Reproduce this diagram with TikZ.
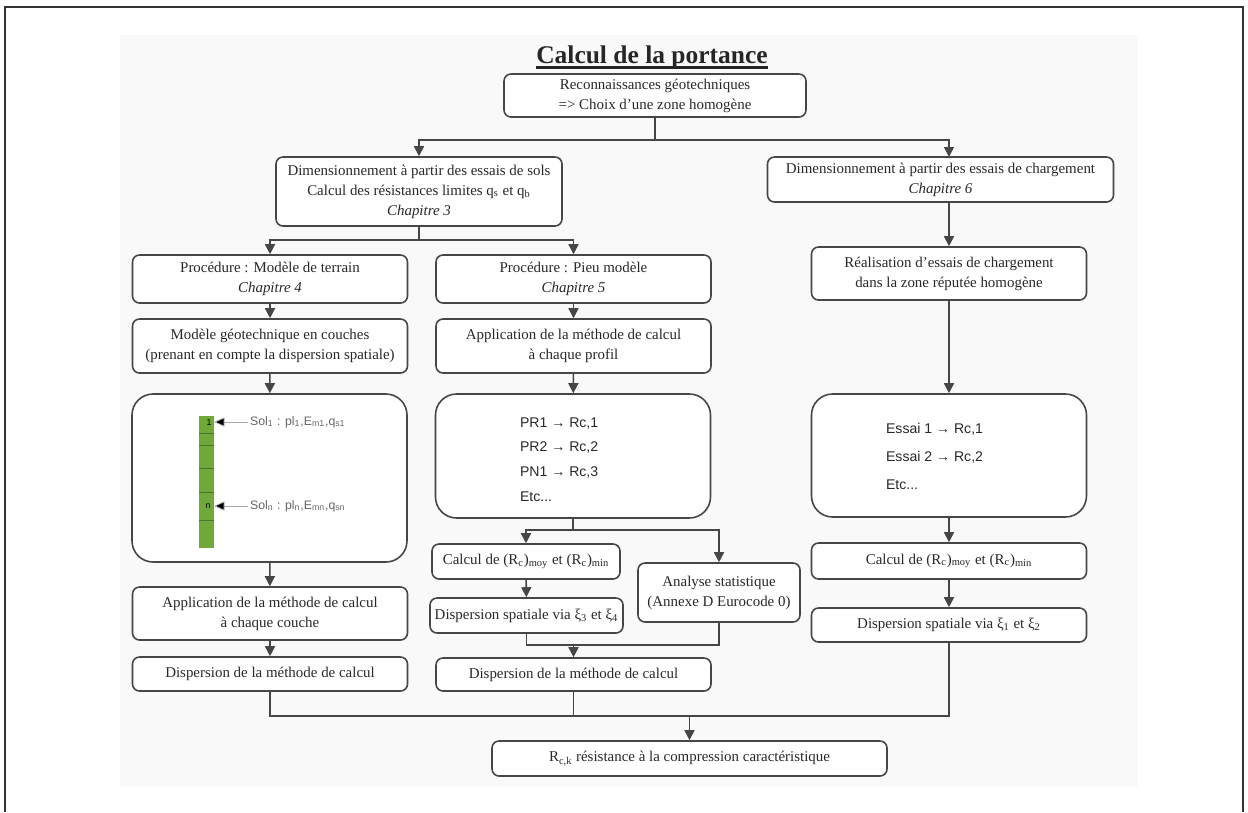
\documentclass[tikz,border=0pt]{standalone}
\usepackage{fontspec}
\setmainfont{Liberation Serif}
\setsansfont{Liberation Sans}
\usepackage{xcolor}
\usetikzlibrary{arrows.meta,positioning,calc}
\definecolor{linegray}{RGB}{70,70,70}
\definecolor{textgray}{RGB}{40,40,40}
\definecolor{fondgris}{RGB}{249,249,249}
\definecolor{vertsol}{RGB}{112,168,58}
\newcommand{\souligne}[1]{{\setbox0\hbox{#1}\usebox0\llap{\rule[-3.2pt]{\wd0}{1.5pt}}}}

\begin{document}
\begin{tikzpicture}[
  box/.style={rectangle, draw=linegray, rounded corners=4pt, line width=0.9pt, fill=white, align=center, text=textgray, inner sep=2pt, font=\fontsize{8.5}{11.4}\selectfont},
  col/.style={box, minimum width=5.5cm},
  bigbox/.style={col, rounded corners=12pt},
  liste/.style={align=left, anchor=west, inner sep=1pt, text=textgray},
  arr/.style={-{Triangle[length=2mm,width=2mm]}, line width=0.9pt, draw=linegray},
  lien/.style={line width=0.9pt, draw=linegray},
  fleche sol/.style={-{Triangle[length=2mm,width=1.8mm,fill=black]}, draw=black!35}
]
\useasboundingbox (0,0) rectangle (24.96,-16.24);

% Cadre et fond
\draw[line width=1pt, draw=black!80] (0.10,-16.24) -- (0.10,-0.14) -- (24.86,-0.14) -- (24.86,-16.24);
\fill[fondgris] (2.40,-0.70) rectangle (22.76,-15.74);

% Titre
\node[font=\bfseries\fontsize{14.5}{16}\selectfont, text=black!85] (titre) at (13.04,-1.14) {\souligne{Calcul de la portance}};

% Haut
\node[box, minimum width=6.04cm, minimum height=0.86cm] (top) at (13.10,-1.91) {Reconnaissances géotechniques\\=> Choix d’une zone homogène};
\coordinate (f1) at (13.10,-2.80);

\node[box, minimum width=5.72cm, minimum height=1.38cm] (sols) at (8.38,-3.83) {Dimensionnement à partir des essais de sols\\Calcul des résistances limites q\textsubscript{s} et q\textsubscript{b}\\\textit{Chapitre 3}};
\node[box, minimum width=6.92cm, minimum height=0.90cm] (charg) at (18.81,-3.59) {Dimensionnement à partir des essais de chargement\\\textit{Chapitre 6}};

\draw[lien] (top) -- (f1);
\draw[arr] (f1) -| (sols);
\draw[arr] (f1) -| (18.98,-3.14);

% Essais de sols
\coordinate (f2) at (8.38,-4.80);
\node[col, minimum height=0.96cm] (terrain) at (5.40,-5.58) {Procédure : Modèle de terrain\\\textit{Chapitre 4}};
\node[col, minimum height=0.96cm] (pieu) at (11.47,-5.58) {Procédure : Pieu modèle\\\textit{Chapitre 5}};
\draw[lien] (sols) -- (f2);
\draw[arr] (f2) -| (terrain);
\draw[arr] (f2) -| (pieu);

% Colonne gauche
\node[col, minimum height=1.08cm] (couches) at (5.40,-6.92) {Modèle géotechnique en couches\\(prenant en compte la dispersion spatiale)};
\node[bigbox, minimum height=3.36cm] (solbig) at (5.39,-9.56) {};
\node[rectangle, fill=vertsol, minimum width=0.30cm, minimum height=2.64cm, inner sep=0pt] (bar) at (4.13,-9.64) {};
\foreach \y in {-8.66,-8.90,-9.36,-9.84,-10.40}
  \draw[vertsol!70!black, line width=0.3pt] (3.98,\y) -- (4.28,\y);
\node[font=\sffamily\fontsize{5}{6}\selectfont, inner sep=0pt] (un) at (4.18,-8.44) {1};
\node[font=\sffamily\fontsize{5}{6}\selectfont, inner sep=0pt] (enne) at (4.16,-10.12) {n};
\node[liste, font=\sffamily\fontsize{7}{8}\selectfont, text=black!60] (sol1) at (4.96,-8.44) {Sol\textsubscript{1} : pl\textsubscript{1},E\textsubscript{m1},q\textsubscript{s1}};
\node[liste, font=\sffamily\fontsize{7}{8}\selectfont, text=black!60] (soln) at (4.96,-10.12) {Sol\textsubscript{n} : pl\textsubscript{n},E\textsubscript{mn},q\textsubscript{sn}};
\draw[fleche sol] (sol1.west) -- (sol1.west -| bar.east);
\draw[fleche sol] (soln.west) -- (soln.west -| bar.east);
\node[col, minimum height=1.06cm] (coucheApp) at (5.40,-12.27) {Application de la méthode de calcul\\à chaque couche};
\node[col, minimum height=0.68cm] (dispL) at (5.40,-13.48) {Dispersion de la méthode de calcul};
\draw[arr] (terrain) -- (couches);
\draw[arr] (couches) -- (solbig);
\draw[arr] (solbig) -- (coucheApp);
\draw[arr] (coucheApp) -- (dispL);

% Colonne milieu
\node[col, minimum height=1.08cm] (profil) at (11.47,-6.92) {Application de la méthode de calcul\\à chaque profil};
\node[bigbox, minimum height=2.48cm] (prbig) at (11.46,-9.12) {};
\node[liste, font=\sffamily\fontsize{8}{14}\selectfont] (prliste) at (10.36,-9.19) {PR1 → Rc,1\\PR2 → Rc,2\\PN1 → Rc,3\\Etc...};
\coordinate (f3) at (11.46,-10.60);
\node[box, minimum width=3.76cm, minimum height=0.70cm] (moyM) at (10.52,-11.23) {Calcul de (R\textsubscript{c})\textsubscript{moy} et (R\textsubscript{c})\textsubscript{min}};
\node[box, minimum width=3.24cm, minimum height=1.18cm] (stat) at (14.38,-11.85) {Analyse statistique\\(Annexe D Eurocode 0)};
\node[box, minimum width=3.86cm, minimum height=0.70cm] (xi34) at (10.53,-12.31) {Dispersion spatiale via ξ\textsubscript{3} et ξ\textsubscript{4}};
\coordinate (f4) at (11.47,-12.90);
\node[col, minimum height=0.66cm] (dispM) at (11.47,-13.49) {Dispersion de la méthode de calcul};
\draw[arr] (pieu) -- (profil);
\draw[arr] (profil) -- (prbig);
\draw[lien] (prbig) -- (f3);
\draw[arr] (f3) -| (moyM);
\draw[arr] (f3) -| (stat);
\draw[arr] (moyM) -- (xi34);
\draw[lien] (xi34.south) |- (f4);
\draw[lien] (stat.south) |- (f4);
\draw[arr] (f4) -- (dispM);

% Colonne droite
\node[col, minimum height=1.06cm] (reali) at (18.98,-5.47) {Réalisation d’essais de chargement\\dans la zone réputée homogène};
\node[bigbox, minimum height=2.46cm] (essbig) at (18.98,-9.11) {};
\node[liste, font=\sffamily\fontsize{8}{16}\selectfont] (essliste) at (17.68,-9.13) {Essai 1 → Rc,1\\Essai 2 → Rc,2\\Etc...};
\node[col, minimum height=0.72cm] (moyR) at (18.98,-11.22) {Calcul de (R\textsubscript{c})\textsubscript{moy} et (R\textsubscript{c})\textsubscript{min}};
\node[col, minimum height=0.68cm] (xi12) at (18.98,-12.50) {Dispersion spatiale via ξ\textsubscript{1} et ξ\textsubscript{2}};
\draw[arr] (charg.south -| reali.north) -- (reali);
\draw[arr] (reali) -- (essbig);
\draw[arr] (essbig) -- (moyR);
\draw[arr] (moyR) -- (xi12);

% Resultat
\coordinate (f5) at (13.79,-14.32);
\node[box, minimum width=7.90cm, minimum height=0.70cm] (final) at (13.79,-15.17) {R\textsubscript{c,k} résistance à la compression caractéristique};
\draw[lien] (dispL.south) |- (xi12.south |- f5) -- (xi12.south);
\draw[lien] (dispM.south) -- (dispM.south |- f5);
\draw[arr] (f5) -- (final);

\end{tikzpicture}
\end{document}
